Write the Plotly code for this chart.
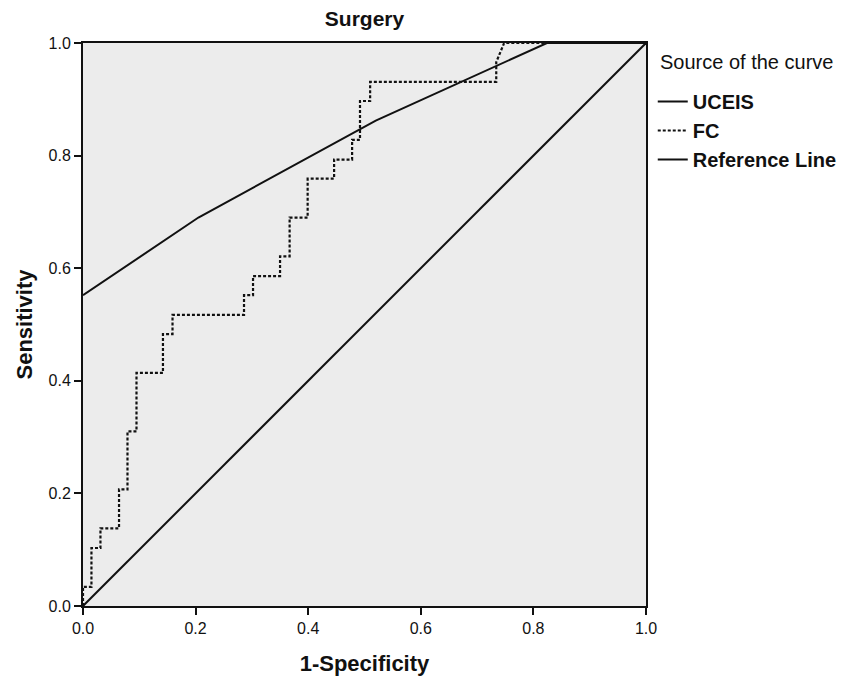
import plotly.graph_objects as go

# FC ROC curve (step points)
fc_fpr = [0, 0, 0.015, 0.015, 0.031, 0.031, 0.064, 0.064, 0.079, 0.079, 0.095, 0.095,
          0.142, 0.142, 0.159, 0.159, 0.286, 0.286, 0.302, 0.302, 0.350, 0.350, 0.367, 0.367,
          0.399, 0.399, 0.446, 0.446, 0.478, 0.478, 0.492, 0.492, 0.510, 0.510, 0.734, 0.734,
          0.748, 1.0]
fc_tpr = [0, 0.034, 0.034, 0.103, 0.103, 0.138, 0.138, 0.207, 0.207, 0.310, 0.310, 0.414,
          0.414, 0.483, 0.483, 0.517, 0.517, 0.552, 0.552, 0.586, 0.586, 0.621, 0.621, 0.690,
          0.690, 0.759, 0.759, 0.793, 0.793, 0.828, 0.828, 0.897, 0.897, 0.931, 0.931, 0.966,
          1.0, 1.0]

# UCEIS ROC curve
uceis_fpr = [0, 0.205, 0.52, 0.824, 1.0]
uceis_tpr = [0.552, 0.690, 0.862, 1.0, 1.0]

# Reference line
ref_x = [0, 1]
ref_y = [0, 1]

tick_vals = [0, 0.2, 0.4, 0.6, 0.8, 1.0]
tick_text = ["0.0", "0.2", "0.4", "0.6", "0.8", "1.0"]

FONT = "Liberation Sans, Arial, sans-serif"

fig = go.Figure()
fig.add_trace(go.Scatter(x=uceis_fpr, y=uceis_tpr, mode="lines", name="<b>UCEIS</b>",
                         line=dict(color="#111111", width=2)))
fig.add_trace(go.Scatter(x=fc_fpr, y=fc_tpr, mode="lines", name="<b>FC</b>",
                         line=dict(color="#111111", width=2.2, dash="3px,2px")))
fig.add_trace(go.Scatter(x=ref_x, y=ref_y, mode="lines", name="<b>Reference Line</b>",
                         line=dict(color="#111111", width=2)))

fig.add_annotation(text="Source of the curve", xref="paper", yref="paper",
                   x=(658 - 83) / 563, y=(606 - 62) / 563, xanchor="left", yanchor="middle",
                   showarrow=False, font=dict(size=20, family=FONT, color="#111111"))

fig.update_layout(
    width=861, height=676,
    margin=dict(l=83, r=215, t=43, b=70),
    paper_bgcolor="white",
    plot_bgcolor="#ececec",
    font=dict(family=FONT, color="#111111"),
    title=dict(text="<b>Surgery</b>", x=(83 + 646) / 2 / 861, xanchor="center",
               y=1 - 19 / 676, yanchor="middle", font=dict(size=21)),
    showlegend=True,
    legend=dict(x=1.012, y=(606 - 82) / 563, xanchor="left", yanchor="top",
                font=dict(size=20), bgcolor="rgba(0,0,0,0)", tracegroupgap=0,
                itemwidth=30),
    xaxis=dict(range=[0, 1], tickvals=tick_vals, ticktext=tick_text, automargin=False,
               showgrid=False, zeroline=False, showline=True, linecolor="#111111",
               linewidth=2, mirror=True, ticks="outside", ticklen=7, tickwidth=1.5,
               tickcolor="#111111", tickfont=dict(size=16),
               title=dict(text="<b>1-Specificity</b>", font=dict(size=22), standoff=19)),
    yaxis=dict(range=[0, 1], tickvals=tick_vals, ticktext=tick_text, automargin=False,
               showgrid=False, zeroline=False, showline=True, linecolor="#111111",
               linewidth=2, mirror=True, ticks="outside", ticklen=7, tickwidth=1.5,
               tickcolor="#111111", tickfont=dict(size=16),
               title=dict(text="<b>Sensitivity</b>", font=dict(size=22), standoff=10)),
)

fig.write_html("out.html")
